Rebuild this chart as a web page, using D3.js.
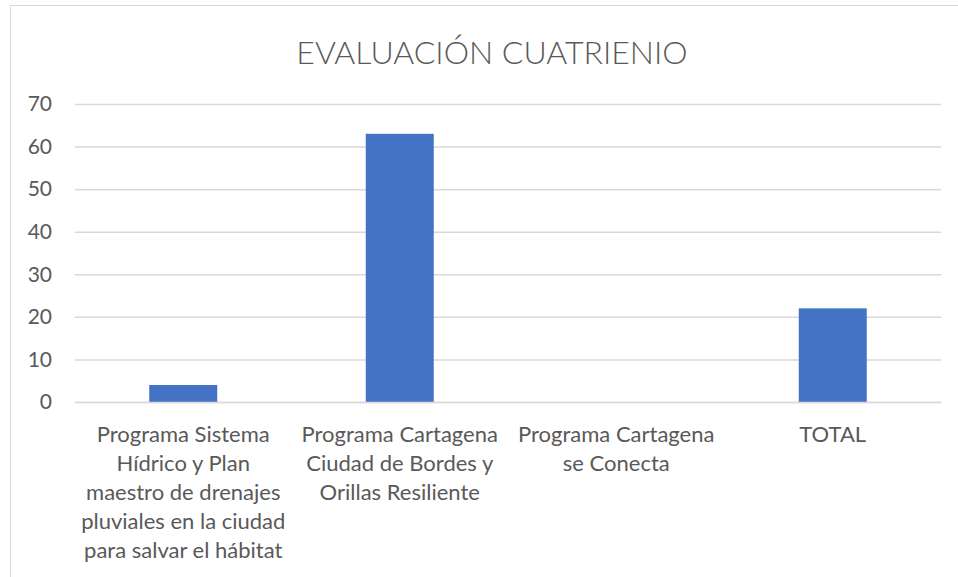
<!DOCTYPE html>
<html>
<head>
<meta charset="utf-8">
<script src="https://cdn.jsdelivr.net/npm/d3@7"></script>
<style>
body { margin: 0; background: #fff; }
text { font-family: Lato, "Open Sans", sans-serif; fill: #595959; }
</style>
</head>
<body>
<div id="chart"></div>
<script>
var title = "EVALUACIÓN CUATRIENIO";
var categories = [
  "Programa Sistema\nHídrico y Plan\nmaestro de drenajes\npluviales en la ciudad\npara salvar el hábitat",
  "Programa Cartagena\nCiudad de Bordes y\nOrillas Resiliente",
  "Programa Cartagena\nse Conecta",
  "TOTAL"
];
var values = [4, 63, 0, 22];
var yTicks = [0, 10, 20, 30, 40, 50, 60, 70];

var W = 958, H = 577;
var margin = {top: 104, right: 17, bottom: 175, left: 75};
var width = W - margin.left - margin.right,
    height = H - margin.top - margin.bottom;

var svg = d3.select("#chart").append("svg")
  .attr("width", W)
  .attr("height", H);

// chart frame
svg.append("rect")
  .attr("x", 10.5).attr("y", 5.5)
  .attr("width", W).attr("height", H)
  .attr("fill", "none")
  .attr("stroke", "#d9d9d9");

svg.append("text")
  .text(title)
  .attr("x", 492)
  .attr("y", 64)
  .attr("text-anchor", "middle")
  .style("font-size", "32px")
  .style("font-weight", "300");

var g = svg.append("g")
  .attr("transform", "translate(" + margin.left + "," + margin.top + ")");

var x = d3.scaleBand()
  .domain(categories)
  .range([0, width])
  .paddingInner(0.686)
  .paddingOuter(0.343);

var y = d3.scaleLinear()
  .domain([0, 70])
  .range([height, 0]);

// gridlines
g.append("g")
  .call(d3.axisLeft(y).tickValues(yTicks).tickSize(-width).tickFormat(""))
  .call(function(a){ a.select(".domain").remove(); })
  .selectAll("line")
  .attr("stroke", "#d9d9d9")
  .attr("stroke-width", 1.5);

// y labels
var yAxis = g.append("g")
  .call(d3.axisLeft(y).tickValues(yTicks).tickSize(0).tickPadding(23));
yAxis.select(".domain").remove();
yAxis.selectAll("text")
  .style("font-size", "21px")
  .attr("fill", "#595959");

// bars
g.append("g")
  .selectAll("rect")
  .data(values)
  .enter()
  .append("rect")
  .attr("x", function(d, i){ return x(categories[i]); })
  .attr("y", function(d){ return y(d); })
  .attr("width", x.bandwidth())
  .attr("height", function(d){ return height - y(d); })
  .attr("fill", "#4472c4");

// x labels
var xAxis = g.append("g")
  .attr("transform", "translate(0," + height + ")")
  .call(d3.axisBottom(x).tickSize(0).tickPadding(0));
xAxis.select(".domain")
  .attr("stroke", "#d9d9d9")
  .attr("stroke-width", 1.5);
xAxis.selectAll(".tick text").each(function(d){
  var t = d3.select(this);
  t.text(null).attr("y", 0).attr("dy", null)
    .style("font-size", "22px").attr("fill", "#595959");
  d.split("\n").forEach(function(line, k){
    t.append("tspan")
      .attr("x", 0)
      .attr("y", 40 + k * 29)
      .text(line);
  });
});
</script>
</body>
</html>
